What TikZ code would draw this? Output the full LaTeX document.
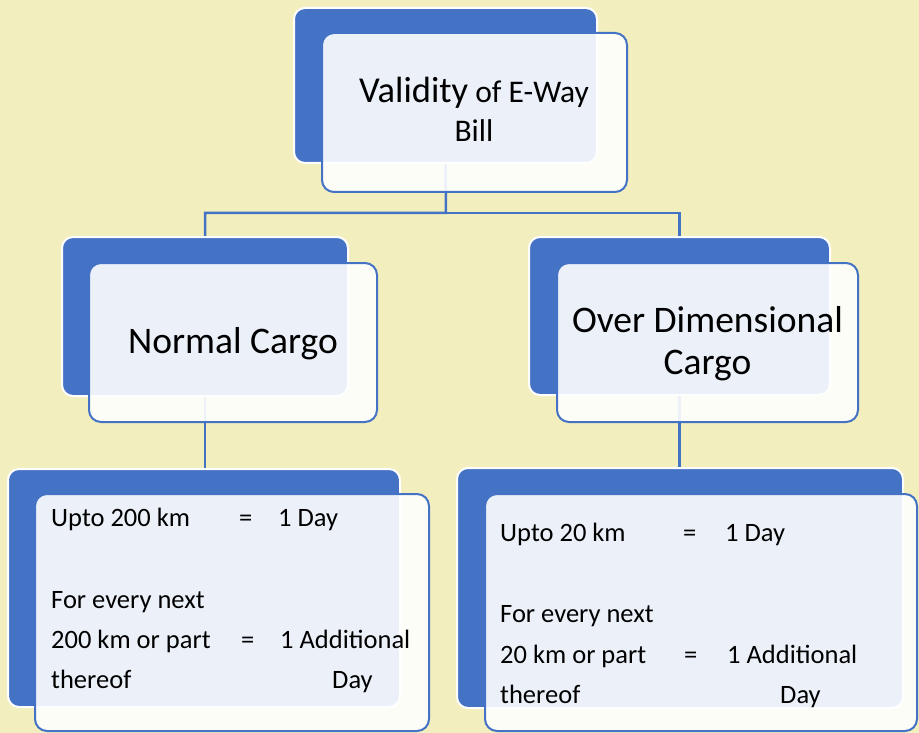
\documentclass[tikz,border=0pt]{standalone}
\usepackage{fontspec}
\setmainfont{Carlito}
\definecolor{bgyellow}{RGB}{242,238,190}
\definecolor{accblue}{RGB}{68,114,196}
\pgfdeclarelayer{bglayer}
\pgfsetlayers{bglayer,main}
\begin{document}
\begin{tikzpicture}[x=1pt,y=-1pt,
  backbox/.style={draw=white,line width=2pt,fill=accblue,rounded corners=11pt,inner sep=0pt,outer sep=0pt},
  frontbox/.style={draw=accblue,line width=2pt,fill=white,fill opacity=0.9,rounded corners=12pt,inner sep=0pt,outer sep=0pt},
  conn/.style={draw=accblue,line width=2.5pt},
  big/.style={inner sep=0pt,font=\fontsize{37.5}{44}\selectfont},
  body/.style={inner sep=0pt,anchor=base west,font=\fontsize{26.5}{31}\selectfont}]
\useasboundingbox (0,0) rectangle (919,733);
% back boxes
\node[backbox,minimum width=303pt,minimum height=155pt] (b0) at (445.5,85.5) {};
\node[backbox,minimum width=286pt,minimum height=159pt] (b1) at (205,316.5) {};
\node[backbox,minimum width=301pt,minimum height=158pt] (b2) at (679.5,316) {};
\node[backbox,minimum width=392pt,minimum height=238pt] (b3) at (204,588) {};
\node[backbox,minimum width=446pt,minimum height=240pt] (b4) at (680,588) {};
% background and connectors (behind the boxes)
\coordinate (j) at (446,213);
\begin{pgfonlayer}{bglayer}
\fill[bgyellow] (0,0) rectangle (919,733);
\draw[conn] (b0.south) -- (j) -| (b1.north);
\draw[conn] (j) -| (b2.north);
\draw[conn] (b1.south) -- (b1.south |- b3.north);
\draw[conn] (b2.south) -- (b2.south |- b4.north);
\end{pgfonlayer}
% front boxes
\node[frontbox,minimum width=305pt,minimum height=159pt] (f0) at (474.5,112.5) {};
\node[frontbox,minimum width=288pt,minimum height=159pt] (f1) at (233,342.5) {};
\node[frontbox,minimum width=301pt,minimum height=159pt] (f2) at (707.5,342.5) {};
\node[frontbox,minimum width=394pt,minimum height=237pt] (f3) at (232,612.5) {};
\node[frontbox,minimum width=432pt,minimum height=237pt] (f4) at (701,612.5) {};
% texts
\node[inner sep=0pt,anchor=base] (t0a) at (474,103) {\fontsize{36.5}{43}\selectfont Validity\fontsize{31.5}{37}\selectfont{} of E-Way};
\node[inner sep=0pt,anchor=base,font=\fontsize{31.5}{37}\selectfont] (t0b) at (474,142) {Bill};
\node[big,anchor=base] (t1) at (233,353) {Normal Cargo};
\node[big,anchor=base] (t2a) at (707.5,332) {Over Dimensional};
\node[big,anchor=base] (t2b) at (707.5,374) {Cargo};
% bottom-left text
\node[body] (l1) at (51,526) {Upto 200 km};
\node[body] (l1e) at (239,526) {=};
\node[body] (l1r) at (278,526) {1 Day};
\node[body] (l2) at (51,608) {For every next};
\node[body] (l3) at (51,648) {200 km or part};
\node[body] (l3e) at (241,648) {=};
\node[body] (l3r) at (280,648) {1 Additional};
\node[body] (l4) at (51,688) {thereof};
\node[body] (l4r) at (332,688) {Day};
% bottom-right text
\node[body] (r1) at (500,541) {Upto 20 km};
\node[body] (r1e) at (683,541) {=};
\node[body] (r1r) at (725,541) {1 Day};
\node[body] (r2) at (500,622) {For every next};
\node[body] (r3) at (500,663) {20 km or part};
\node[body] (r3e) at (684,663) {=};
\node[body] (r3r) at (727,663) {1 Additional};
\node[body] (r4) at (500,703) {thereof};
\node[body] (r4r) at (780,703) {Day};
\end{tikzpicture}
\end{document}
